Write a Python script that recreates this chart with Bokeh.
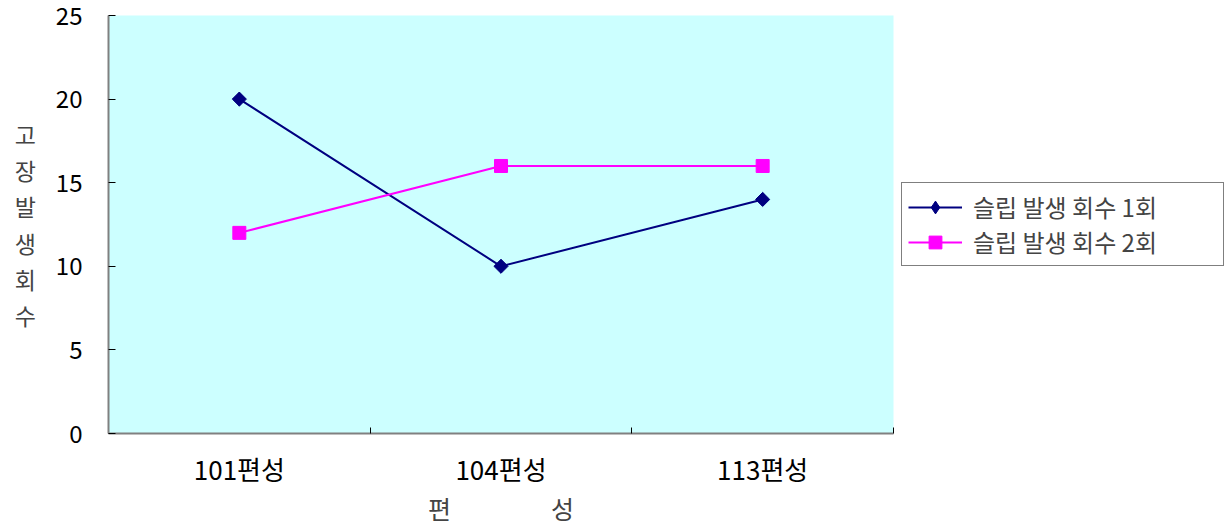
import numpy as np
from bokeh.plotting import figure
from bokeh.models import Range1d, FixedTicker, Legend, LegendItem
from bokeh.embed import file_html
from bokeh.resources import INLINE

# Slip occurrences per trainset
categories = ["101편성", "104편성", "113편성"]
slip_once = [20, 10, 14]
slip_twice = [12, 16, 16]
y_ticks = [0, 5, 10, 15, 20, 25]
series_names = ["슬립 발생 회수 1회", "슬립 발생 회수 2회"]
y_title = "고장발생회수"
x_title = "편\u3000\u3000\u3000\u3000성"

FONT = "Noto Sans CJK KR"
NAVY = "#000080"
MAGENTA = "#FF00FF"

# one unit per category, points sit in the middle of each slot
xs = np.arange(len(categories)) + 0.5

p = figure(
    frame_width=785, frame_height=418,
    output_backend="svg", toolbar_location=None,
    x_range=Range1d(0, len(categories)), y_range=Range1d(0, 25),
    min_border_left=108, min_border_right=0,
    min_border_top=15, min_border_bottom=95,
    background_fill_color="#CCFFFF", border_fill_color="white",
)
p.outline_line_color = None
p.grid.visible = False

# x axis: labels at slot centres, tick marks on slot boundaries
xa = p.xaxis[0]
xa.ticker = FixedTicker(ticks=list(xs), minor_ticks=list(range(len(categories) + 1)))
xa.major_label_overrides = {float(x): c for x, c in zip(xs, categories)}
xa.major_tick_line_color = None
xa.minor_tick_line_color = "black"
xa.minor_tick_in = 6
xa.minor_tick_out = 0
xa.axis_line_color = "#808080"
xa.axis_line_width = 2
xa.major_label_standoff = 10
xa.major_label_text_font = FONT
xa.major_label_text_font_size = "26px"
xa.major_label_text_color = "black"
xa.axis_label = x_title
xa.axis_label_text_font = FONT
xa.axis_label_text_font_size = "25px"
xa.axis_label_text_font_style = "normal"
xa.axis_label_standoff = 0

ya = p.yaxis[0]
ya.ticker = FixedTicker(ticks=y_ticks)
ya.minor_tick_line_color = None
ya.major_tick_line_color = "black"
ya.major_tick_in = 7
ya.major_tick_out = 0
ya.axis_line_color = "#808080"
ya.axis_line_width = 2
ya.major_label_standoff = 26
ya.major_label_text_font = FONT
ya.major_label_text_font_size = "24px"
ya.major_label_text_color = "black"
ya.axis_label = "\n".join(y_title)
ya.axis_label_orientation = "horizontal"
ya.axis_label_text_font = FONT
ya.axis_label_text_font_size = "23px"
ya.axis_label_text_font_style = "normal"
ya.axis_label_text_line_height = 1.06
ya.axis_label_standoff = 17

l1 = p.line(xs, slip_once, line_color=NAVY, line_width=2)
# legend key uses the plain diamond; on the chart it sits under the rotated square
k1 = p.scatter(xs, slip_once, marker="diamond", size=13,
               fill_color=NAVY, line_color=NAVY)
m1 = p.scatter(x=xs, y=slip_once, marker="square", angle=[np.pi / 4] * len(xs),
               size=10, fill_color=NAVY, line_color=NAVY)
l2 = p.line(xs, slip_twice, line_color=MAGENTA, line_width=2)
m2 = p.scatter(xs, slip_twice, marker="square", size=13,
               fill_color=MAGENTA, line_color=MAGENTA)

legend = Legend(
    items=[LegendItem(label=series_names[0], renderers=[l1, k1]),
           LegendItem(label=series_names[1], renderers=[l2, m2])],
    location="center_left",
    border_line_color="black", border_line_width=1,
    background_fill_color="white", background_fill_alpha=1,
    label_text_font=FONT, label_text_font_size="24px",
    glyph_width=54, glyph_height=32, label_height=32, label_width=244,
    label_standoff=11, padding=6, spacing=0, margin=8,
)
p.add_layout(legend, "right")

open("out.html", "w").write(file_html(p, INLINE))
